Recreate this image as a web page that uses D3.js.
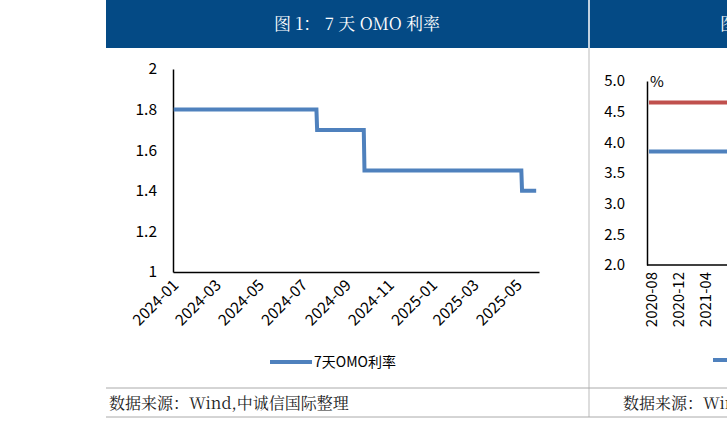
<!DOCTYPE html>
<html><head><meta charset="utf-8">
<script src="https://cdn.jsdelivr.net/npm/d3@7"></script>
<style>body{margin:0;background:#fff}</style>
</head><body>
<div id="chart"></div>
<script>
// 7天OMO利率 step points
var omoDates = ["2024-01-02", "2024-07-22", "2024-07-23", "2024-09-27", "2024-09-28", "2025-05-08", "2025-05-09", "2025-05-29"];
var omoValues = [1.8, 1.8, 1.7, 1.7, 1.5, 1.5, 1.4, 1.4];
var yTicks = [1, 1.2, 1.4, 1.6, 1.8, 2];
var xTickLabels = ["2024-01", "2024-03", "2024-05", "2024-07", "2024-09", "2024-11", "2025-01", "2025-03", "2025-05"];

// partial right chart
var rightYTicks = [2.0, 2.5, 3.0, 3.5, 4.0, 4.5, 5.0];
var rightXLabels = ["2020-08", "2020-12", "2021-04"];
var rightRed = 4.65, rightBlue = 3.85;

var W = 727, H = 422;
var parse = d3.timeParse("%Y-%m-%d"), pm = d3.timeParse("%Y-%m");
var blue = "#4f81bd", hdr = "#044a85";
var cjk = "'Noto Sans CJK SC', sans-serif";
var serif = "'Noto Serif CJK SC','DejaVu Serif', serif";

var svg = d3.select("#chart").append("svg").attr("width", W).attr("height", H);

// header
svg.append("rect").attr("x", 106).attr("y", 0).attr("width", W - 106).attr("height", 48).attr("fill", hdr);
svg.append("line").attr("x1", 589).attr("x2", 589).attr("y1", 0).attr("y2", 48).attr("stroke", "#fff").attr("stroke-width", 1.5);
svg.append("text").attr("x", 357).attr("y", 30).attr("text-anchor", "middle").attr("fill", "#fff")
	.style("font-family", serif).style("font-size", "17px").text("图 1：  7 天 OMO 利率");
svg.append("text").attr("x", 720).attr("y", 30).attr("fill", "#fff")
	.style("font-family", serif).style("font-size", "17px").text("图");
svg.append("line").attr("x1", 589).attr("x2", 589).attr("y1", 48).attr("y2", 417).attr("stroke", "#bbb");
svg.append("line").attr("x1", 106).attr("x2", W).attr("y1", 388).attr("y2", 388).attr("stroke", "#aaa");
svg.append("line").attr("x1", 106).attr("x2", W).attr("y1", 417).attr("y2", 417).attr("stroke", "#aaa");
svg.append("text").attr("x", 109).attr("y", 409).attr("fill", "#222")
	.style("font-family", serif).style("font-size", "16px").text("数据来源：Wind,中诚信国际整理");
svg.append("text").attr("x", 623).attr("y", 409).attr("fill", "#222")
	.style("font-family", serif).style("font-size", "16px").text("数据来源：Wind");

// main chart
var x = d3.scaleTime().domain([parse("2024-01-01"), parse("2025-06-02")]).range([173, 539]);
var y = d3.scaleLinear().domain([1, 2]).range([272, 69]);

var yAxis = svg.append("g").attr("transform", "translate(173,0)")
	.call(d3.axisLeft(y).tickValues(yTicks).tickSize(0).tickPadding(16).tickFormat(d3.format("")));
var xAxis = svg.append("g").attr("transform", "translate(0,272)")
	.call(d3.axisBottom(x).tickValues(xTickLabels.map(pm)).tickSize(0).tickFormat(d3.timeFormat("%Y-%m")));
[yAxis, xAxis].forEach(function (g) {
	g.select(".domain").attr("stroke", "#000").attr("stroke-width", 1.5);
	g.selectAll("text").attr("fill", "#000").style("font-family", cjk).style("font-size", "15.5px");
});
xAxis.selectAll("text").attr("text-anchor", "end").attr("dy", 0)
	.attr("transform", "translate(4,12) rotate(-45)");

var line = d3.line().x(function (d) { return x(d[0]); }).y(function (d) { return y(d[1]); });
svg.append("path").datum(omoDates.map(function (d, i) { return [parse(d), omoValues[i]]; }))
	.attr("d", line).attr("fill", "none").attr("stroke", blue).attr("stroke-width", 4);

svg.append("line").attr("x1", 270).attr("x2", 312).attr("y1", 362).attr("y2", 362).attr("stroke", blue).attr("stroke-width", 4);
svg.append("text").attr("x", 314).attr("y", 367).style("font-family", cjk).style("font-size", "14px").text("7天OMO利率");

// right partial chart
var ry = d3.scaleLinear().domain([2, 5]).range([265, 81]);
var ra = svg.append("g").attr("transform", "translate(647,0)")
	.call(d3.axisLeft(ry).tickValues(rightYTicks).tickSize(0).tickPadding(22).tickFormat(d3.format(".1f")));
ra.select(".domain").attr("stroke", "#000").attr("stroke-width", 1.5);
ra.selectAll("text").attr("fill", "#000").style("font-family", cjk).style("font-size", "15px");
svg.append("line").attr("x1", 647).attr("x2", W).attr("y1", 265).attr("y2", 265).attr("stroke", "#000").attr("stroke-width", 1.5);
svg.append("text").attr("x", 650).attr("y", 87).style("font-family", cjk).style("font-size", "15px").text("%");
svg.append("line").attr("x1", 649).attr("x2", W).attr("y1", ry(rightRed)).attr("y2", ry(rightRed)).attr("stroke", "#c0504d").attr("stroke-width", 4);
svg.append("line").attr("x1", 649).attr("x2", W).attr("y1", ry(rightBlue)).attr("y2", ry(rightBlue)).attr("stroke", blue).attr("stroke-width", 4);
var rx = d3.scalePoint().domain(rightXLabels).range([652, 706]);
svg.selectAll(".rxl").data(rightXLabels).enter().append("text")
	.attr("transform", function (d) { return "translate(" + (rx(d) + 5) + ",272) rotate(-90)"; })
	.attr("text-anchor", "end").style("font-family", cjk).style("font-size", "15px").text(function (d) { return d; });
svg.append("line").attr("x1", 713).attr("x2", W).attr("y1", 360).attr("y2", 360).attr("stroke", blue).attr("stroke-width", 4);
</script>
</body></html>
